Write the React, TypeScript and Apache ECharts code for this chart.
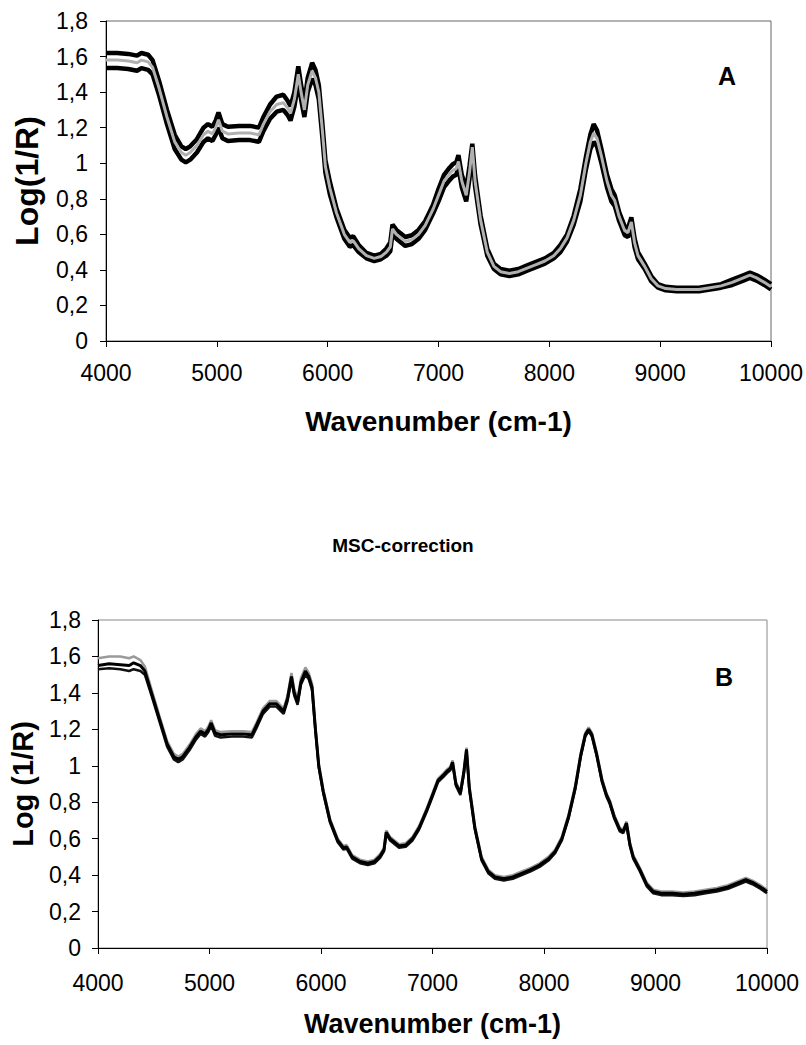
import React, { useEffect, useRef } from "react";
import * as echarts from "echarts";

const wavenumbers = [4000, 4100, 4200, 4280, 4320, 4380, 4420, 4480, 4550, 4620, 4680, 4720, 4760, 4820, 4880, 4920, 4960, 4990, 5015, 5050, 5100, 5200, 5300, 5380, 5420, 5480, 5540, 5600, 5640, 5665, 5700, 5735, 5760, 5790, 5820, 5860, 5890, 5920, 5950, 5980, 6020, 6080, 6150, 6200, 6230, 6280, 6350, 6420, 6480, 6530, 6565, 6585, 6620, 6700, 6760, 6820, 6880, 6950, 7000, 7050, 7100, 7130, 7160, 7180, 7210, 7250, 7280, 7305, 7330, 7380, 7440, 7500, 7560, 7640, 7720, 7800, 7880, 7960, 8040, 8100, 8160, 8220, 8280, 8330, 8370, 8400, 8430, 8470, 8520, 8560, 8590, 8630, 8680, 8710, 8740, 8770, 8800, 8860, 8920, 8980, 9050, 9150, 9250, 9350, 9450, 9550, 9650, 9750, 9810, 9870, 9940, 10000];

// Chart A (raw spectra)
const rawUpper = [1.62, 1.62, 1.615, 1.605, 1.62, 1.61, 1.58, 1.46, 1.3, 1.16, 1.095, 1.08, 1.095, 1.135, 1.2, 1.22, 1.205, 1.24, 1.285, 1.22, 1.205, 1.21, 1.21, 1.2, 1.26, 1.33, 1.375, 1.385, 1.35, 1.32, 1.4, 1.545, 1.44, 1.34, 1.48, 1.565, 1.525, 1.44, 1.24, 1.015, 0.895, 0.745, 0.625, 0.58, 0.59, 0.54, 0.495, 0.48, 0.49, 0.52, 0.555, 0.655, 0.625, 0.585, 0.595, 0.625, 0.675, 0.765, 0.855, 0.935, 0.975, 0.995, 1.005, 1.045, 0.935, 0.855, 0.985, 1.11, 0.93, 0.705, 0.52, 0.435, 0.405, 0.395, 0.405, 0.425, 0.445, 0.465, 0.495, 0.54, 0.6, 0.705, 0.855, 1.035, 1.16, 1.22, 1.185, 1.08, 0.935, 0.855, 0.82, 0.725, 0.645, 0.635, 0.695, 0.575, 0.5, 0.435, 0.365, 0.32, 0.305, 0.3, 0.3, 0.3, 0.31, 0.32, 0.345, 0.37, 0.385, 0.37, 0.345, 0.32];
const rawMiddle = [1.58, 1.58, 1.575, 1.565, 1.58, 1.57, 1.54, 1.42, 1.26, 1.12, 1.06, 1.045, 1.06, 1.1, 1.16, 1.18, 1.165, 1.2, 1.245, 1.18, 1.165, 1.17, 1.17, 1.16, 1.22, 1.29, 1.33, 1.34, 1.31, 1.28, 1.36, 1.5, 1.4, 1.3, 1.44, 1.52, 1.48, 1.4, 1.2, 0.98, 0.86, 0.72, 0.6, 0.555, 0.565, 0.52, 0.48, 0.465, 0.475, 0.5, 0.53, 0.63, 0.6, 0.56, 0.57, 0.6, 0.65, 0.74, 0.82, 0.9, 0.94, 0.96, 0.97, 1.01, 0.9, 0.82, 0.95, 1.09, 0.9, 0.68, 0.5, 0.42, 0.39, 0.38, 0.39, 0.41, 0.43, 0.45, 0.48, 0.52, 0.58, 0.68, 0.82, 1.0, 1.12, 1.17, 1.14, 1.04, 0.9, 0.82, 0.79, 0.7, 0.62, 0.61, 0.67, 0.55, 0.48, 0.42, 0.35, 0.31, 0.295, 0.29, 0.29, 0.29, 0.3, 0.31, 0.33, 0.355, 0.37, 0.355, 0.33, 0.305];
const rawLower = [1.535, 1.535, 1.53, 1.52, 1.535, 1.525, 1.5, 1.38, 1.22, 1.08, 1.02, 1.005, 1.02, 1.06, 1.12, 1.14, 1.125, 1.16, 1.2, 1.14, 1.125, 1.13, 1.13, 1.12, 1.18, 1.25, 1.29, 1.3, 1.27, 1.24, 1.32, 1.455, 1.36, 1.26, 1.4, 1.475, 1.44, 1.36, 1.16, 0.945, 0.825, 0.695, 0.575, 0.53, 0.54, 0.5, 0.465, 0.45, 0.46, 0.48, 0.505, 0.605, 0.575, 0.535, 0.545, 0.575, 0.625, 0.715, 0.785, 0.865, 0.905, 0.925, 0.935, 0.975, 0.865, 0.785, 0.915, 1.07, 0.87, 0.655, 0.48, 0.405, 0.375, 0.365, 0.375, 0.395, 0.415, 0.435, 0.465, 0.5, 0.56, 0.655, 0.785, 0.965, 1.08, 1.12, 1.095, 1.0, 0.865, 0.785, 0.76, 0.675, 0.595, 0.585, 0.645, 0.525, 0.46, 0.405, 0.335, 0.3, 0.285, 0.28, 0.28, 0.28, 0.29, 0.3, 0.315, 0.34, 0.355, 0.34, 0.315, 0.29];

// Chart B (MSC-corrected spectra)
const mscUpper = [1.59, 1.6, 1.6, 1.59, 1.6, 1.58, 1.545, 1.42, 1.275, 1.135, 1.065, 1.05, 1.065, 1.115, 1.175, 1.205, 1.19, 1.215, 1.25, 1.195, 1.185, 1.19, 1.19, 1.185, 1.235, 1.315, 1.355, 1.355, 1.33, 1.315, 1.385, 1.51, 1.42, 1.37, 1.48, 1.54, 1.51, 1.45, 1.215, 1.01, 0.87, 0.71, 0.6, 0.56, 0.565, 0.51, 0.485, 0.475, 0.485, 0.515, 0.55, 0.645, 0.61, 0.57, 0.575, 0.61, 0.67, 0.77, 0.85, 0.93, 0.96, 0.98, 0.995, 1.03, 0.91, 0.86, 0.97, 1.1, 0.89, 0.67, 0.5, 0.43, 0.4, 0.39, 0.4, 0.42, 0.44, 0.465, 0.5, 0.54, 0.61, 0.73, 0.89, 1.07, 1.18, 1.21, 1.18, 1.08, 0.93, 0.85, 0.81, 0.73, 0.66, 0.65, 0.695, 0.58, 0.51, 0.44, 0.36, 0.32, 0.31, 0.31, 0.305, 0.31, 0.32, 0.33, 0.345, 0.37, 0.385, 0.37, 0.345, 0.32];
const mscMiddle = [1.55, 1.56, 1.555, 1.55, 1.565, 1.55, 1.52, 1.4, 1.26, 1.12, 1.05, 1.035, 1.05, 1.1, 1.16, 1.19, 1.175, 1.2, 1.235, 1.18, 1.17, 1.175, 1.175, 1.17, 1.22, 1.3, 1.34, 1.34, 1.315, 1.3, 1.37, 1.49, 1.4, 1.35, 1.46, 1.52, 1.49, 1.43, 1.2, 1.0, 0.86, 0.7, 0.59, 0.55, 0.555, 0.5, 0.475, 0.465, 0.475, 0.505, 0.54, 0.635, 0.6, 0.56, 0.565, 0.6, 0.66, 0.76, 0.84, 0.92, 0.95, 0.97, 0.985, 1.02, 0.9, 0.85, 0.96, 1.09, 0.88, 0.66, 0.49, 0.42, 0.39, 0.38, 0.39, 0.41, 0.43, 0.455, 0.49, 0.53, 0.6, 0.72, 0.88, 1.06, 1.17, 1.2, 1.17, 1.07, 0.92, 0.84, 0.8, 0.72, 0.65, 0.64, 0.685, 0.57, 0.5, 0.43, 0.35, 0.31, 0.3, 0.3, 0.295, 0.3, 0.31, 0.32, 0.335, 0.36, 0.375, 0.36, 0.335, 0.31];
const mscLower = [1.53, 1.535, 1.53, 1.52, 1.53, 1.52, 1.5, 1.385, 1.245, 1.105, 1.035, 1.02, 1.035, 1.085, 1.145, 1.175, 1.16, 1.185, 1.22, 1.165, 1.155, 1.16, 1.16, 1.155, 1.205, 1.285, 1.325, 1.325, 1.3, 1.285, 1.355, 1.47, 1.385, 1.335, 1.445, 1.5, 1.475, 1.415, 1.19, 0.99, 0.85, 0.69, 0.58, 0.54, 0.545, 0.49, 0.465, 0.455, 0.465, 0.495, 0.53, 0.625, 0.59, 0.55, 0.555, 0.59, 0.65, 0.75, 0.83, 0.91, 0.94, 0.96, 0.975, 1.01, 0.89, 0.84, 0.95, 1.08, 0.87, 0.65, 0.48, 0.41, 0.38, 0.37, 0.38, 0.4, 0.42, 0.445, 0.48, 0.52, 0.59, 0.71, 0.87, 1.05, 1.16, 1.19, 1.16, 1.06, 0.91, 0.83, 0.79, 0.71, 0.64, 0.63, 0.675, 0.56, 0.49, 0.42, 0.34, 0.3, 0.29, 0.29, 0.285, 0.29, 0.3, 0.31, 0.325, 0.35, 0.365, 0.35, 0.325, 0.3];

const xTicks = { min: 4000, max: 10000, interval: 1000 };
const yTicks = { min: 0, max: 1.8, interval: 0.2 };
const FONT = "Liberation Sans, Arial, sans-serif";

const pairs = (ys: number[]) => wavenumbers.map((w, i) => [w, ys[i]]);

export default function App() {
  const ref = useRef<HTMLDivElement>(null);
  useEffect(() => {
    if (!ref.current) return;
    const chart = echarts.init(ref.current, undefined, { renderer: "svg" });
    const fmtY = (v: number) => {
      const r = Math.round(v * 10) / 10;
      return String(r).replace(".", ",");
    };
    const fmtX = (v: number) => String(Math.round(v));
    const xAxisBase = (gridIndex: number, gap: number, labelMargin: number, nameSize: number) => ({
      type: "value",
      gridIndex,
      ...xTicks,
      name: "Wavenumber (cm-1)",
      nameLocation: "middle",
      nameGap: gap,
      nameTextStyle: { fontFamily: FONT, fontWeight: "bold", fontSize: nameSize, color: "#000" },
      axisLine: { show: true, lineStyle: { color: "#000", width: 1 } },
      axisTick: { show: true, inside: false, length: 6, lineStyle: { color: "#000" } },
      axisLabel: { fontFamily: FONT, fontSize: 23, color: "#000", margin: labelMargin, formatter: fmtX },
      splitLine: { show: false },
    });
    const yAxisBase = (gridIndex: number, name: string, gap: number, labelMargin: number, nameSize: number) => ({
      type: "value",
      gridIndex,
      ...yTicks,
      name,
      nameLocation: "middle",
      nameGap: gap,
      nameRotate: 90,
      nameTextStyle: { fontFamily: FONT, fontWeight: "bold", fontSize: nameSize, color: "#000" },
      axisLine: { show: true, lineStyle: { color: "#000", width: 1 } },
      axisTick: { show: true, inside: false, length: 6, lineStyle: { color: "#000" } },
      axisLabel: { fontFamily: FONT, fontSize: 23, color: "#000", margin: labelMargin, formatter: fmtY },
      splitLine: { show: false },
    });
    const line = (xi: number, data: number[], color: string, width: number, z: number) => ({
      type: "line",
      xAxisIndex: xi,
      yAxisIndex: xi,
      data: pairs(data),
      showSymbol: false,
      symbol: "none",
      lineStyle: { color, width },
      z,
    });
    chart.setOption({
      animation: false,
      backgroundColor: "#fff",
      grid: [
        { left: 106, top: 21, width: 665, height: 320, show: true, borderColor: "#666", borderWidth: 1 },
        { left: 97, top: 620, width: 670, height: 328, show: true, borderColor: "#888", borderWidth: 1 },
      ],
      xAxis: [xAxisBase(0, 66, 20, 28), xAxisBase(1, 62, 23, 27)],
      yAxis: [yAxisBase(0, "Log(1/R)", 63, 18, 32), yAxisBase(1, "Log (1/R)", 61, 17, 29)],
      series: [
        line(0, rawUpper, "#000", 4.5, 2),
        line(0, rawLower, "#000", 4.5, 2),
        line(0, rawMiddle, "#b0b0b0", 3, 3),
        line(1, mscUpper, "#9a9a9a", 2.5, 2),
        line(1, mscLower, "#111", 2.5, 3),
        line(1, mscMiddle, "#000", 3, 4),
      ],
      graphic: [
        { type: "text", left: 718, top: 63, style: { text: "A", font: `bold 25px ${FONT}`, fill: "#000" } },
        { type: "text", left: 715, top: 664, style: { text: "B", font: `bold 25px ${FONT}`, fill: "#000" } },
        { type: "text", left: "center", top: 536, style: { text: "MSC-correction", font: `bold 19px ${FONT}`, fill: "#000" } },
      ],
    });
    return () => chart.dispose();
  }, []);
  return <div ref={ref} style={{ position: "absolute", left: 0, top: 0, width: 806, height: 1045 }} />;
}
